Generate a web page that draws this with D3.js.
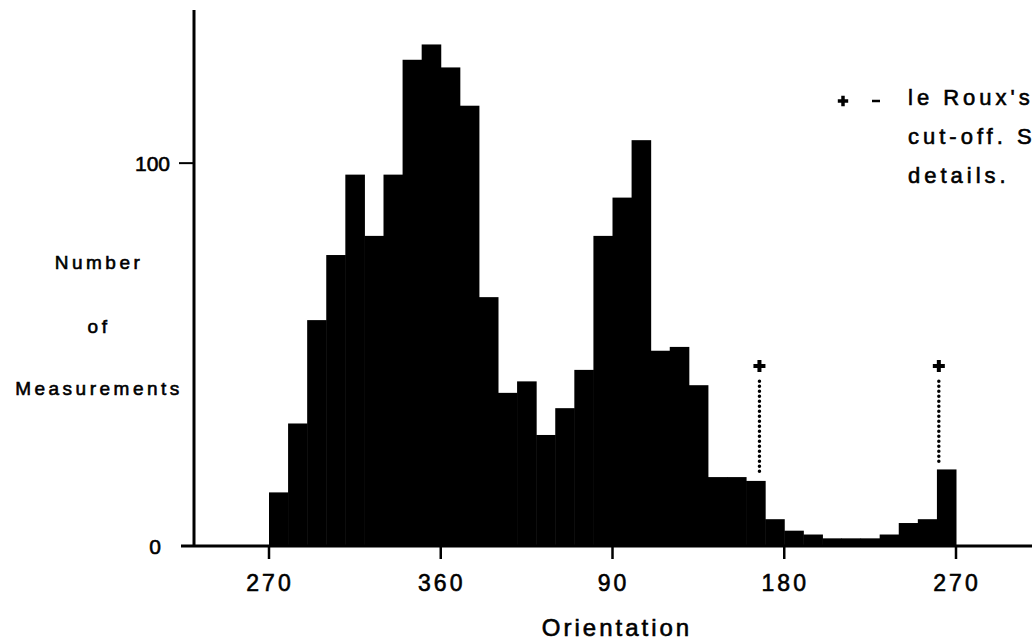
<!DOCTYPE html>
<html>
<head>
<meta charset="utf-8">
<script src="https://cdn.jsdelivr.net/npm/d3@7"></script>
<style>
  body { margin: 0; background: #fff; }
  svg { display: block; }
  text { font-family: "Liberation Sans", "DejaVu Sans", sans-serif; fill: #000; stroke: #000; stroke-width: 0.6px; }
</style>
</head>
<body>
<svg id="chart" width="1032" height="641"></svg>
<script>
// counts per 10 degree bin, starting at 270 and wrapping round to 270
const counts = [14, 32, 59, 76, 97, 81, 97, 127, 131, 125, 115, 65, 40, 43, 29, 36, 46, 81,
                91, 106, 51, 52, 42, 18, 18, 17, 7, 4, 3, 2, 2, 2, 3, 6, 7, 20];
const binWidth = 10;
const startAngle = 270;
const xTickOffsets = [0, 90, 180, 270, 360];
const xTickLabels = ["270", "360", "90", "180", "270"];
const yTicks = [0, 100];
// le Roux's cut-off orientations and the marker level
const cutoffAngles = [167, 261];
const cutoffMarker = 47;
const cutoffTop = 43;
const legendLines = ["le Roux's", "cut-off. See", "details."];
const yLabelLines = ["Number", "of", "Measurements"];

const svg = d3.select("#chart");

const x = d3.scaleLinear().domain([0, 360]).range([269, 956]);
const y = d3.scaleLinear().domain([0, 140]).range([546, 10]);

const bins = counts.map((c, i) => ({ x0: i * binWidth, x1: (i + 1) * binWidth, n: c }));

// bars
svg.append("g")
  .selectAll("rect")
  .data(bins)
  .join("rect")
    .attr("x", d => x(d.x0))
    .attr("width", d => x(d.x1) - x(d.x0) + 0.5)
    .attr("y", d => y(d.n))
    .attr("height", d => y(0) - y(d.n))
    .attr("fill", "#000");

// y axis
svg.append("line")
  .attr("x1", 194).attr("x2", 194)
  .attr("y1", y(140)).attr("y2", y(0) + 1)
  .attr("stroke", "#000").attr("stroke-width", 3);

svg.append("g")
  .selectAll("line")
  .data(yTicks.filter(d => d > 0))
  .join("line")
    .attr("x1", 179).attr("x2", 194)
    .attr("y1", d => y(d)).attr("y2", d => y(d))
    .attr("stroke", "#000").attr("stroke-width", 2);

svg.append("g")
  .selectAll("text")
  .data(yTicks)
  .join("text")
    .attr("x", d => d === 0 ? 161 : 170)
    .attr("y", d => y(d) + 8)
    .attr("text-anchor", "end")
    .attr("font-size", 21)
    .text(d => d);

// x axis
svg.append("line")
  .attr("x1", 181).attr("x2", 1032)
  .attr("y1", y(0)).attr("y2", y(0))
  .attr("stroke", "#000").attr("stroke-width", 3);

svg.append("g")
  .selectAll("line")
  .data(xTickOffsets)
  .join("line")
    .attr("x1", d => x(d)).attr("x2", d => x(d))
    .attr("y1", y(0)).attr("y2", y(0) + 13)
    .attr("stroke", "#000").attr("stroke-width", 2.5);

svg.append("g")
  .selectAll("text")
  .data(xTickOffsets)
  .join("text")
    .attr("x", d => x(d) + 1)
    .attr("y", 591)
    .attr("text-anchor", "middle")
    .attr("font-size", 23)
    .attr("letter-spacing", 3)
    .text((d, i) => xTickLabels[i]);

svg.append("text")
  .attr("x", 617).attr("y", 636)
  .attr("text-anchor", "middle")
  .attr("font-size", 24)
  .attr("letter-spacing", 3)
  .text("Orientation");

// y label
const yLabelBase = [269, 333, 395];
svg.append("g")
  .selectAll("text")
  .data(yLabelLines)
  .join("text")
    .attr("x", 99)
    .attr("y", (d, i) => yLabelBase[i])
    .attr("text-anchor", "middle")
    .attr("font-size", 19)
    .attr("letter-spacing", 3.5)
    .text(d => d);

// cut-off markers
const plus = d3.symbol().type(d3.symbolCross).size(80);
const cut = svg.append("g");
cutoffAngles.forEach(a => {
  const off = (a - startAngle + 360) % 360;
  const bin = Math.floor(off / binWidth);
  cut.append("path")
    .attr("d", plus)
    .attr("transform", "translate(" + x(off) + "," + y(cutoffMarker) + ")")
    .attr("fill", "#000");
  cut.append("line")
    .attr("x1", x(off)).attr("x2", x(off))
    .attr("y1", y(cutoffTop)).attr("y2", y(counts[bin] + 1.5))
    .attr("stroke", "#000")
    .attr("stroke-width", 3.5)
    .attr("stroke-linecap", "round")
    .attr("stroke-dasharray", "0,5");
});

// legend
svg.append("path")
  .attr("d", d3.symbol().type(d3.symbolCross).size(60))
  .attr("transform", "translate(843,101)")
  .attr("fill", "#000");
svg.append("line")
  .attr("x1", 872).attr("x2", 880)
  .attr("y1", 101).attr("y2", 101)
  .attr("stroke", "#000").attr("stroke-width", 2.5);

svg.append("g")
  .selectAll("text")
  .data(legendLines)
  .join("text")
    .attr("x", 908)
    .attr("y", (d, i) => 105 + i * 39)
    .attr("font-size", 22)
    .attr("letter-spacing", 4)
    .text(d => d);
</script>
</body>
</html>
